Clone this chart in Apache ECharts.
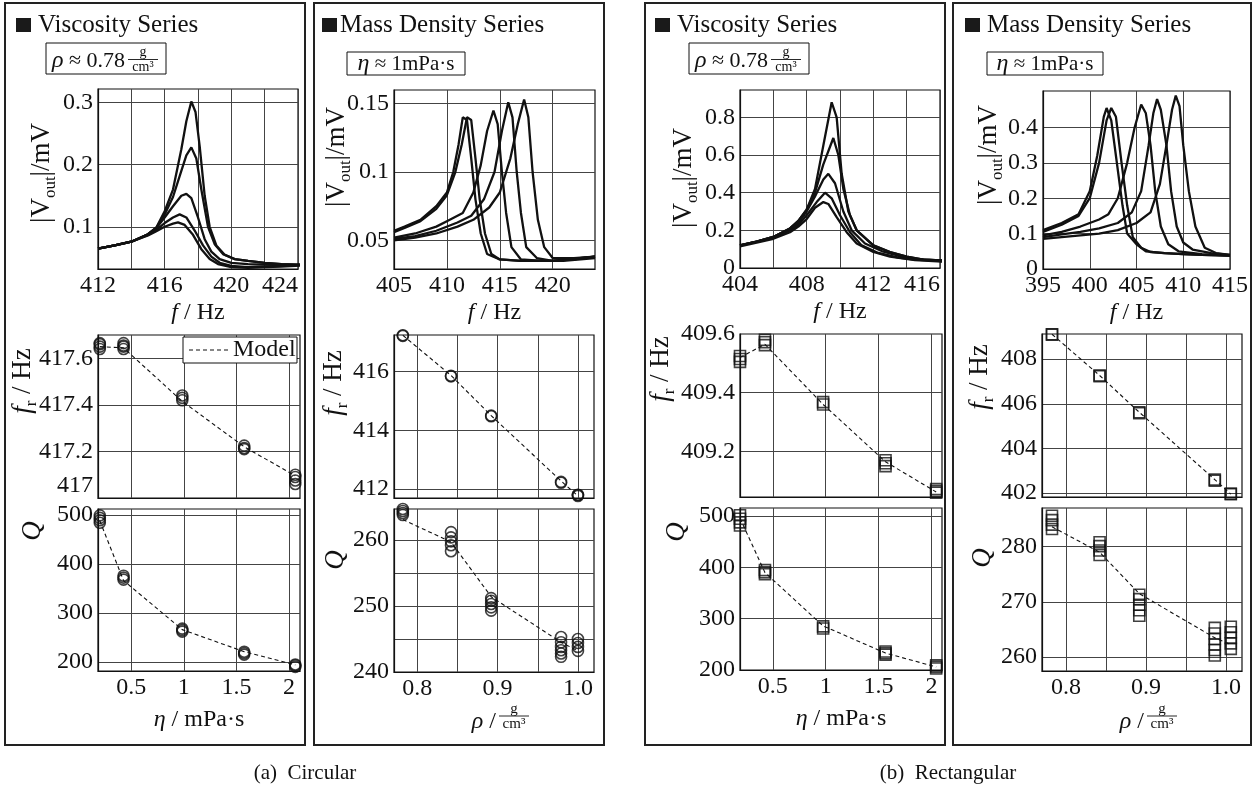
<!DOCTYPE html>
<html><head><meta charset="utf-8">
<script src="https://cdn.jsdelivr.net/npm/echarts@6/dist/echarts.min.js"></script>
<style>html,body{margin:0;padding:0;background:#fff}#c{width:1256px;height:799px}</style>
</head><body><div id="c"></div><script>
// ---------- DATA ----------
// (a) Circular – viscosity series: resonance curves [f Hz, |Vout| mV]
const cvRes1 = [[412,0.065],[413,0.07],[414,0.076],[415,0.088],[415.5,0.099],[416,0.125],[416.5,0.16],[417,0.225],[417.3,0.27],[417.6,0.302],[417.85,0.285],[418.1,0.23],[418.4,0.15],[418.7,0.1],[419.1,0.07],[419.6,0.055],[420.2,0.048],[421,0.045],[422,0.042],[423,0.04],[424.5,0.038]];
const cvRes2 = [[412,0.065],[413,0.07],[414,0.076],[415,0.088],[415.5,0.098],[416,0.12],[416.5,0.148],[417,0.19],[417.3,0.215],[417.6,0.228],[417.9,0.21],[418.2,0.16],[418.6,0.1],[419,0.072],[419.5,0.056],[420.2,0.048],[421,0.045],[422,0.042],[423,0.04],[424.5,0.038]];
const cvRes3 = [[412,0.065],[413,0.07],[414,0.076],[415,0.088],[415.5,0.098],[416,0.115],[416.5,0.133],[417,0.15],[417.3,0.153],[417.6,0.146],[418,0.115],[418.4,0.08],[418.8,0.06],[419.3,0.048],[420,0.042],[421,0.04],[422,0.039],[423,0.039],[424.5,0.039]];
const cvRes4 = [[412,0.065],[413,0.07],[414,0.076],[415,0.087],[415.5,0.095],[416,0.106],[416.5,0.115],[416.9,0.12],[417.3,0.115],[417.8,0.094],[418.3,0.07],[418.8,0.052],[419.3,0.042],[420,0.037],[421,0.035],[422,0.036],[423,0.037],[424.5,0.039]];
const cvRes5 = [[412,0.065],[413,0.07],[414,0.076],[415,0.086],[415.5,0.093],[416,0.1],[416.5,0.105],[416.8,0.107],[417.2,0.103],[417.7,0.087],[418.2,0.064],[418.7,0.048],[419.2,0.04],[420,0.035],[421,0.034],[422,0.035],[423,0.036],[424.5,0.038]];
// (a) Circular – viscosity series: f_r and Q vs eta [mPa·s]
const cvFr = [[0.2,417.64],[0.2,417.65],[0.2,417.66],[0.2,417.665],[0.426,417.64],[0.426,417.65],[0.426,417.655],[0.426,417.665],[0.985,417.42],[0.985,417.43],[0.985,417.44],[1.574,417.21],[1.574,417.215],[1.574,417.225],[2.06,417.06],[2.06,417.075],[2.06,417.09],[2.06,417.1]];
const cvFrModel = [[0.2,417.65],[0.426,417.645],[0.985,417.415],[1.574,417.22],[2.06,417.095]];
const cvQ = [[0.2,484],[0.2,489],[0.2,494],[0.2,499],[0.426,368],[0.426,372],[0.426,376],[0.985,262],[0.985,265],[0.985,268],[1.574,215],[1.574,218],[1.574,221],[2.06,190],[2.06,193],[2.06,195]];
const cvQModel = [[0.2,488],[0.426,366],[0.985,266],[1.574,221],[2.06,194]];

// (a) Circular – mass density series
const cdRes1 = [[405,0.057],[406,0.06],[407.5,0.065],[409,0.075],[410,0.085],[410.6,0.1],[411.1,0.12],[411.5,0.14],[411.9,0.138],[412.3,0.11],[412.7,0.08],[413.2,0.055],[413.8,0.04],[415,0.036],[417,0.035],[420,0.035],[424,0.038]];
const cdRes2 = [[405,0.056],[406,0.059],[407.5,0.064],[409,0.073],[410,0.083],[410.8,0.1],[411.4,0.12],[411.9,0.14],[412.3,0.138],[412.7,0.11],[413.1,0.08],[413.6,0.055],[414.2,0.04],[415,0.036],[417,0.035],[420,0.035],[424,0.038]];
const cdRes3 = [[405,0.052],[407,0.055],[409,0.06],[410,0.064],[411.5,0.07],[412.5,0.085],[413.2,0.105],[413.8,0.13],[414.4,0.145],[414.8,0.135],[415.2,0.1],[415.6,0.07],[416.1,0.045],[417,0.036],[419,0.035],[421,0.035],[424,0.037]];
const cdRes4 = [[405,0.051],[407,0.053],[409,0.057],[411,0.063],[412.3,0.068],[413.5,0.08],[414.5,0.1],[415.2,0.13],[415.8,0.151],[416.2,0.14],[416.6,0.1],[417,0.07],[417.5,0.045],[418.5,0.037],[420,0.035],[422,0.036],[424,0.038]];
const cdRes5 = [[405,0.05],[407,0.052],[409,0.055],[411,0.06],[412.5,0.065],[414,0.074],[415,0.085],[416,0.11],[416.7,0.135],[417.3,0.153],[417.7,0.14],[418.1,0.1],[418.6,0.065],[419.2,0.045],[420,0.037],[422,0.037],[424,0.038]];
const cdFr = [[0.782,417.22],[0.782,417.24],[0.842,415.84],[0.842,415.86],[0.892,414.48],[0.892,414.5],[0.979,412.21],[0.979,412.24],[1.0,411.76],[1.0,411.79],[1.0,411.8]];
const cdFrModel = [[0.782,417.24],[0.842,415.87],[0.892,414.5],[0.979,412.27],[1.0,411.76]];
const cdQ = [[0.782,263.8],[0.782,264.1],[0.782,264.4],[0.782,264.7],[0.842,258.3],[0.842,259.2],[0.842,259.8],[0.842,260.4],[0.842,261.2],[0.892,249.3],[0.892,249.8],[0.892,250.3],[0.892,250.8],[0.892,251.2],[0.979,242.3],[0.979,242.8],[0.979,243.3],[0.979,243.8],[0.979,244.5],[0.979,245.3],[1.0,243.2],[1.0,243.8],[1.0,244.4],[1.0,245.0]];
const cdQModel = [[0.782,263.1],[0.842,259.7],[0.892,251.4],[0.979,244.5],[1.0,243.2]];

// (b) Rectangular – viscosity series
const rvRes1 = [[404,0.12],[405,0.14],[406,0.165],[407,0.21],[407.5,0.25],[408,0.31],[408.5,0.42],[409,0.65],[409.5,0.88],[409.8,0.8],[410.1,0.5],[410.5,0.3],[411,0.2],[412,0.12],[413,0.085],[414,0.06],[415,0.045],[416.2,0.04]];
const rvRes2 = [[404,0.12],[405,0.14],[406,0.165],[407,0.21],[407.5,0.25],[408,0.31],[408.5,0.4],[409,0.55],[409.6,0.69],[409.9,0.6],[410.2,0.42],[410.6,0.28],[411,0.2],[412,0.12],[413,0.085],[414,0.06],[415,0.045],[416.2,0.04]];
const rvRes3 = [[404,0.12],[405,0.14],[406,0.165],[407,0.21],[407.5,0.24],[408,0.3],[408.5,0.38],[409,0.47],[409.3,0.5],[409.7,0.45],[410.2,0.3],[410.7,0.2],[411.5,0.13],[412.5,0.09],[413.5,0.065],[414.5,0.048],[416.2,0.038]];
const rvRes4 = [[404,0.12],[405,0.14],[406,0.16],[407,0.2],[407.5,0.23],[408,0.28],[408.6,0.35],[409.1,0.4],[409.5,0.37],[410,0.28],[410.6,0.19],[411.3,0.12],[412.3,0.08],[413.5,0.055],[414.5,0.045],[416.2,0.036]];
const rvRes5 = [[404,0.115],[405,0.135],[406,0.155],[407,0.19],[407.5,0.22],[408,0.26],[408.5,0.32],[409,0.35],[409.3,0.34],[409.8,0.27],[410.4,0.19],[411,0.13],[412,0.085],[413,0.06],[414.5,0.042],[416.2,0.034]];
const rvFr = [[0.19,409.505],[0.19,409.515],[0.19,409.525],[0.426,409.562],[0.426,409.572],[0.426,409.58],[0.976,409.36],[0.976,409.368],[1.566,409.15],[1.566,409.16],[1.566,409.17],[2.045,409.06],[2.045,409.066],[2.045,409.072]];
const rvFrModel = [[0.19,409.52],[0.426,409.565],[0.976,409.36],[1.566,409.165],[2.045,409.062]];
const rvQ = [[0.19,482],[0.19,488],[0.19,495],[0.19,502],[0.426,387],[0.426,391],[0.426,395],[0.976,281],[0.976,285],[1.566,230],[1.566,233],[1.566,236],[2.045,203],[2.045,206],[2.045,209]];
const rvQModel = [[0.19,496],[0.426,390],[0.976,286],[1.566,233],[2.045,206]];

// (b) Rectangular – mass density series
const rdRes1 = [[395,0.11],[397,0.13],[398.8,0.155],[400,0.22],[400.8,0.32],[401.5,0.43],[401.8,0.455],[402.3,0.42],[402.9,0.3],[403.5,0.18],[404,0.1],[405,0.07],[406,0.05],[408,0.045],[410,0.042],[412,0.04],[415,0.038]];
const rdRes2 = [[395,0.105],[397,0.125],[398.8,0.15],[400,0.2],[401,0.3],[401.8,0.42],[402.3,0.455],[402.8,0.43],[403.4,0.3],[404,0.18],[404.6,0.09],[405.5,0.06],[406.5,0.048],[408,0.045],[410,0.042],[412,0.04],[415,0.038]];
const rdRes3 = [[395,0.095],[397,0.105],[399,0.12],[401,0.14],[402,0.155],[403,0.2],[404,0.3],[404.8,0.4],[405.5,0.465],[406,0.44],[406.5,0.35],[407,0.22],[407.6,0.12],[408.4,0.07],[409.5,0.05],[412,0.042],[415,0.038]];
const rdRes4 = [[395,0.09],[397,0.098],[399,0.105],[401,0.115],[403,0.13],[404.5,0.16],[405.5,0.22],[406.3,0.35],[406.8,0.44],[407.2,0.48],[407.6,0.45],[408.2,0.35],[408.7,0.22],[409.3,0.12],[410,0.075],[411,0.055],[413,0.045],[415,0.04]];
const rdRes5 = [[395,0.085],[397,0.09],[399,0.095],[401,0.1],[403,0.11],[405,0.13],[406.5,0.16],[407.5,0.24],[408.2,0.35],[408.8,0.45],[409.2,0.49],[409.6,0.46],[410,0.35],[410.6,0.22],[411.3,0.12],[412.3,0.06],[413.5,0.045],[415,0.04]];
const rdFr = [[0.7825,409.1],[0.7825,409.12],[0.842,407.24],[0.842,407.27],[0.8916,405.58],[0.8916,405.62],[0.986,402.55],[0.986,402.6],[1.006,401.94],[1.006,401.97]];
const rdFrModel = [[0.7825,409.12],[0.842,407.27],[0.8916,405.62],[0.986,402.6],[1.006,401.95]];
const rdQ = [[0.7825,283.2],[0.7825,284],[0.7825,284.8],[0.7825,285.6],[0.842,278.5],[0.842,279.3],[0.842,280.1],[0.842,280.8],[0.8916,267.5],[0.8916,268.5],[0.8916,269.5],[0.8916,270.5],[0.8916,271.3],[0.986,260.3],[0.986,261.3],[0.986,262.3],[0.986,263.3],[0.986,264.3],[0.986,265.3],[1.006,261.5],[1.006,262.5],[1.006,263.5],[1.006,264.5],[1.006,265.5]];
const rdQModel = [[0.7825,283.6],[0.842,279],[0.8916,271.5],[0.986,263.5],[1.006,262.3]];

// ---------- TICKS / LABELS ----------
const gridCvF = [412,414,416,418,420,422,424], labCvF = [412,416,420,424];
const gridEta = [0.5,1,1.5,2], labEta = [0.5,1,1.5,2];
const gridCdF = [405,410,415,420], labCdF = [405,410,415,420];
const gridRho = [0.8,0.85,0.9,0.95,1.0], labRho = [0.8,0.9,1.0];
const gridRvF = [404,406,408,410,412,414,416], labRvF = [404,408,412,416];
const gridRdF = [395,400,405,410,415], labRdF = [395,400,405,410,415];
const gridCvV = [0.1,0.2,0.3], labCvV = [0.1,0.2,0.3];
const gridCvFr = [417.2,417.4,417.6], labCvFr = [417,417.2,417.4,417.6];
const gridCvQ = [200,300,400,500], labCvQ = [200,300,400,500];
const gridCdV = [0.05,0.1,0.15], labCdV = [0.05,0.1,0.15];
const gridCdFr = [412,414,416], labCdFr = [412,414,416];
const gridCdQ = [245,250,255,260], labCdQ = [240,250,260];
const gridRvV = [0.2,0.4,0.6,0.8], labRvV = [0,0.2,0.4,0.6,0.8];
const gridRvFr = [409.2,409.4], labRvFr = [409.2,409.4,409.6];
const gridRvQ = [300,400,500], labRvQ = [200,300,400,500];
const gridRdV = [0.1,0.2,0.3,0.4], labRdV = [0,0.1,0.2,0.3,0.4];
const gridRdFr = [402,404,406,408], labRdFr = [402,404,406,408];
const gridRdQ = [260,270,280], labRdQ = [260,270,280];

// ---------- CHART ----------
const FONT = "'Liberation Serif', 'DejaVu Serif', serif";
const FS = 24;
const BLACK = '#111';
const chart = echarts.init(document.getElementById('c'), null, {renderer: 'canvas'});

const gridBoxes = [
  [98,89,200,180],[98,335,202,163],[98,509,202,162],
  [394,90,201,179],[394,335,200,163],[394,509,200,163],
  [740,90,200,178],[740,334,202,163],[740,508,202,162],
  [1043,91,187,178],[1042,334,200,163],[1042,508,200,163]
];
const grid = gridBoxes.map(b => ({left:b[0], top:b[1], width:b[2], height:b[3], show:true,
  borderColor:BLACK, borderWidth:1.2, backgroundColor:'transparent', containLabel:false, outerBoundsMode:'none'}));

const richBase = {
  i: {fontStyle:'italic', fontFamily:FONT, fontSize:24, fill:BLACK, color:BLACK},
  s: {fontFamily:FONT, fontSize:15, lineHeight:14, verticalAlign:'bottom', fill:BLACK, color:BLACK}
};
const richBig = {
  i: {fontStyle:'italic', fontFamily:FONT, fontSize:27, fill:BLACK, color:BLACK},
  s: {fontFamily:FONT, fontSize:17, lineHeight:15, verticalAlign:'bottom', fill:BLACK, color:BLACK}
};
const fmtRho = v => v.toFixed(1);

function mkAxis(i, min, max, gv, lv, fmt, extra) {
  return Object.assign({
    gridIndex:i, type:'value', min:min, max:max,
    axisLine:{show:true, onZero:false, lineStyle:{color:BLACK, width:1.2}},
    axisTick:{show:false, customValues:gv},
    splitLine:{show:true, customValues:gv, lineStyle:{color:'#444', width:1}},
    axisLabel:{show:lv.length>0, customValues:lv, formatter:fmt, color:BLACK, fontFamily:FONT, fontSize:FS, margin:5, hideOverlap:false}
  }, extra || {});
}
const xName = (n, gap) => ({name:n, nameLocation:'middle', nameGap:gap,
  nameTextStyle:{color:BLACK, fontFamily:FONT, fontSize:24, lineHeight:28, rich:richBase}});
function alignRight(ax) { ax.axisLabel.alignMaxLabel = 'right'; return ax; }
function raiseMin(ax) { ax.axisLabel.verticalAlignMinLabel = 'bottom'; return ax; }

const xAxis = [
  alignRight(mkAxis(0,412,424,gridCvF,labCvF,null,xName('{i|f} / Hz',27))),
  mkAxis(1,0.183,2.105,gridEta,[],null),
  mkAxis(2,0.183,2.105,gridEta,labEta,null,xName('{i|η} / mPa·s',35)),
  mkAxis(3,405,424,gridCdF,labCdF,null,xName('{i|f} / Hz',27)),
  mkAxis(4,0.771,1.02,gridRho,[],null),
  mkAxis(5,0.771,1.02,gridRho,labRho,fmtRho),
  alignRight(mkAxis(6,404,416,gridRvF,labRvF,null,xName('{i|f} / Hz',27))),
  mkAxis(7,0.19,2.1,gridEta,[],null),
  mkAxis(8,0.19,2.1,gridEta,labEta,null,xName('{i|η} / mPa·s',35)),
  mkAxis(9,395,415,gridRdF,labRdF,null,xName('{i|f} / Hz',27)),
  mkAxis(10,0.77,1.02,gridRho,[],null),
  mkAxis(11,0.77,1.02,gridRho,labRho,fmtRho)
];
const yAxis = [
  mkAxis(0,0.032,0.322,gridCvV,labCvV),
  raiseMin(mkAxis(1,417,417.7,gridCvFr,labCvFr)),
  mkAxis(2,181.6,512,gridCvQ,labCvQ),
  mkAxis(3,0.029,0.16,gridCdV,labCdV),
  mkAxis(4,411.69,417.25,gridCdFr,labCdFr),
  mkAxis(5,240,264.7,gridCdQ,labCdQ),
  mkAxis(6,0,0.945,gridRvV,labRvV),
  mkAxis(7,409.045,409.6,gridRvFr,labRvFr),
  mkAxis(8,200,516,gridRvQ,labRvQ),
  mkAxis(9,0,0.503,gridRdV,labRdV),
  mkAxis(10,401.82,409.13,gridRdFr,labRdFr),
  mkAxis(11,257.5,287,gridRdQ,labRdQ)
];

const series = [];
function curves(i, list) { list.forEach(d => series.push({type:'line', xAxisIndex:i, yAxisIndex:i, data:d,
  symbol:'none', showSymbol:false, silent:true, clip:true, lineStyle:{color:BLACK, width:2.3}, z:2})); }
function points(i, d, sym) { series.push({type:'scatter', xAxisIndex:i, yAxisIndex:i, data:d, symbol:sym,
  symbolSize:11, silent:true, clip:false, itemStyle:{color:'rgba(255,255,255,0)', borderColor:BLACK, borderWidth:1.6}, z:3}); }
function model(i, d) { series.push({type:'line', xAxisIndex:i, yAxisIndex:i, data:d, symbol:'none', showSymbol:false,
  silent:true, lineStyle:{color:BLACK, width:1.1, type:[4,3]}, z:4}); }

curves(0,[cvRes1,cvRes2,cvRes3,cvRes4,cvRes5]);
points(1,cvFr,'circle'); model(1,cvFrModel);
points(2,cvQ,'circle'); model(2,cvQModel);
curves(3,[cdRes1,cdRes2,cdRes3,cdRes4,cdRes5]);
points(4,cdFr,'circle'); model(4,cdFrModel);
points(5,cdQ,'circle'); model(5,cdQModel);
curves(6,[rvRes1,rvRes2,rvRes3,rvRes4,rvRes5]);
points(7,rvFr,'rect'); model(7,rvFrModel);
points(8,rvQ,'rect'); model(8,rvQModel);
curves(9,[rdRes1,rdRes2,rdRes3,rdRes4,rdRes5]);
points(10,rdFr,'rect'); model(10,rdFrModel);
points(11,rdQ,'rect'); model(11,rdQModel);

// ---------- GRAPHIC (frames, titles, names) ----------
const G = [];
function T(x, y, text, o) {
  o = o || {};
  G.push({type:'text', x:x, y:y, rotation:o.rot || 0, z:100, silent:true, style:{text:text, fill:BLACK,
    fontFamily:FONT, fontSize:o.fs || 24, fontStyle:o.italic ? 'italic' : 'normal',
    align:o.align || 'center', verticalAlign:'middle', lineHeight:o.lh || 30, rich:o.rich || richBase}});
}
function R(x, y, w, h, o) {
  o = o || {};
  G.push({type:'rect', z:99, silent:true, shape:{x:x, y:y, width:w, height:h},
    style:{fill:o.fill || 'none', stroke:o.stroke === undefined ? BLACK : o.stroke, lineWidth:o.lw || 1.2}});
}
function L(x1, y1, x2, y2, o) {
  o = o || {};
  G.push({type:'line', z:100, silent:true, shape:{x1:x1, y1:y1, x2:x2, y2:y2},
    style:{stroke:BLACK, lineWidth:o.lw || 1, lineDash:o.dash || null}});
}
function frac(cx, cy, num, den, fs, w) {
  T(cx, cy - 7, num, {fs:fs, lh:fs});
  L(cx - w/2, cy, cx + w/2, cy, {lw:0.9});
  T(cx, cy + 8, den, {fs:fs, lh:fs});
}
// panel frames
R(5,3,300,742,{lw:2,stroke:'#222'}); R(314,3,290,742,{lw:2,stroke:'#222'});
R(645,3,300,742,{lw:2,stroke:'#222'}); R(953,3,298,742,{lw:2,stroke:'#222'});
// titles
[[16,38,'Viscosity Series'],[322,340,'Mass Density Series'],[655,677,'Viscosity Series'],[965,987,'Mass Density Series']]
  .forEach(t => { R(t[0],18,15,14,{fill:'#1a1a1a',stroke:null}); T(t[1],25,t[2],{align:'left',fs:25}); });
// condition boxes
[[46,0],[689,643]].forEach(b => {
  R(b[0],43,120,31,{lw:1});
  T(125 + b[1], 61, '{i|ρ} ≈ 0.78', {align:'right', fs:22});
  frac(143 + b[1], 59.5, 'g', 'cm³', 14, 30);
});
[[347,52,118],[987,52,116]].forEach(b => {
  R(b[0],b[1],b[2],23,{lw:1});
  T(b[0] + b[2]/2, 64, '{i|η} ≈ 1mPa·s', {fs:21});
});
// legend (Model)
R(183,337,114,26,{fill:'#fff',lw:1});
L(189,350,229,350,{dash:[4,3],lw:1.1});
T(233,350,'Model',{align:'left',fs:24});
// y axis names (rotated)
const ROT = Math.PI/2;
[[42,173],[337,157],[684,178],[989,155]].forEach(p => T(p[0],p[1],'|V{s|out}|/mV',{rot:ROT,fs:27,rich:richBig,lh:34}));
[[23,381],[334,383],[661,369],[980,377]].forEach(p => T(p[0],p[1],'{i|f}{s|r} / Hz',{rot:ROT,fs:27,rich:richBig,lh:34}));
[[33,531],[336,560],[677,532],[983,558]].forEach(p => T(p[0],p[1],'{i|Q}',{rot:ROT,fs:27,rich:richBig,lh:34}));
// rho axis names
[494,1142].forEach(cx => {
  T(cx + 2, 722, '{i|ρ} /', {align:'right', fs:24});
  frac(cx + 20, 716, 'g', 'cm³', 15, 30);
});
// captions
T(305,773,'(a)  Circular',{fs:21});
T(948,773,'(b)  Rectangular',{fs:21});

chart.setOption({
  animation:false,
  backgroundColor:'#fff',
  grid:grid, xAxis:xAxis, yAxis:yAxis, series:series, graphic:G
});
</script></body></html>
